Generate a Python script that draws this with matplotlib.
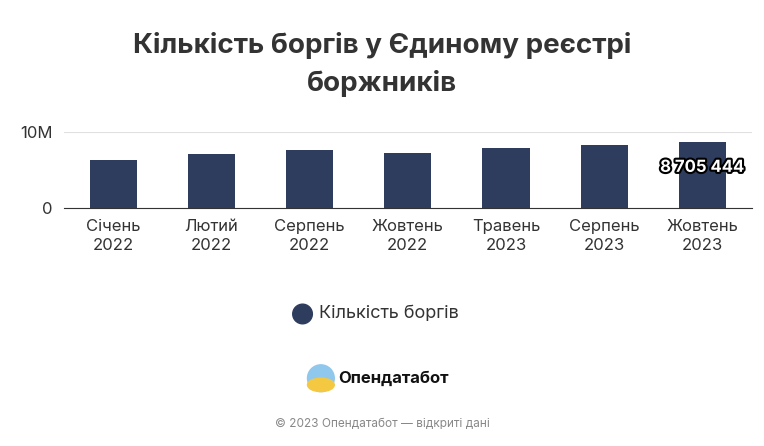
import matplotlib
matplotlib.use("Agg")
import matplotlib.pyplot as plt
from matplotlib.patches import Ellipse
import matplotlib.patheffects as pe

categories = ["Січень\n2022", "Лютий\n2022", "Серпень\n2022", "Жовтень\n2022",
              "Травень\n2023", "Серпень\n2023", "Жовтень\n2023"]
values = [6_400_000, 7_200_000, 7_700_000, 7_300_000, 7_900_000, 8_400_000, 8_705_444]
yticks = [0, 10_000_000]
yticklabels = ["0", "10M"]

plt.rcParams['font.family'] = ['Inter', 'DejaVu Sans']
fig = plt.figure(figsize=(7.64, 4.46), dpi=100)
ax = fig.add_axes([0.0838, 0.533, 0.9, 0.17])
color = "#2e3d5e"
x = range(len(values))
ax.bar(x, values, width=0.48, color=color, zorder=3)
ax.set_xlim(-0.5, len(values) - 0.5)
ax.set_ylim(0, 10_000_000)
ax.set_yticks(yticks)
ax.set_yticklabels(yticklabels, fontsize=12, color="#333333")
ax.set_xticks(list(x))
ax.set_xticklabels(categories, fontsize=12, color="#333333", linespacing=1.3)
ax.tick_params(length=0, pad=8)
ax.grid(axis="y", color="#e0e0e0", zorder=0)
for s in ["top", "right", "left"]:
    ax.spines[s].set_visible(False)
ax.spines["bottom"].set_color("#333333")
ax.text(6, values[-1] * 0.62, "8 705 444", ha="center", va="center", fontsize=12,
        fontweight="bold", color="white",
        path_effects=[pe.withStroke(linewidth=3, foreground="black")], zorder=5)

fig.text(0.5, 0.855, "Кількість боргів у Єдиному реєстрі\nборжників", ha="center", va="center",
         fontsize=20, fontweight="bold", color="#333333", linespacing=1.5)

asp = 446 / 764
def circ(cx, cy, r, c):
    fig.add_artist(Ellipse((cx, cy), 2 * r * asp, 2 * r, transform=fig.transFigure, color=c))

circ(0.396, 0.296, 0.022, color)
fig.text(0.417, 0.296, "Кількість боргів", ha="left", va="center", fontsize=13, color="#333333")

# logo
circ(0.42, 0.152, 0.03, "#8fc8ec")
fig.add_artist(Ellipse((0.42, 0.137), 0.06 * asp, 0.03, transform=fig.transFigure, color="#f5c842"))
fig.text(0.443, 0.152, "Опендатабот", ha="left", va="center", fontsize=12, fontweight="bold", color="#111111")
fig.text(0.5, 0.05, "© 2023 Опендатабот — відкриті дані", ha="center", va="center", fontsize=8.5, color="#888888")
fig.savefig("out.png", dpi=100, facecolor="white")
